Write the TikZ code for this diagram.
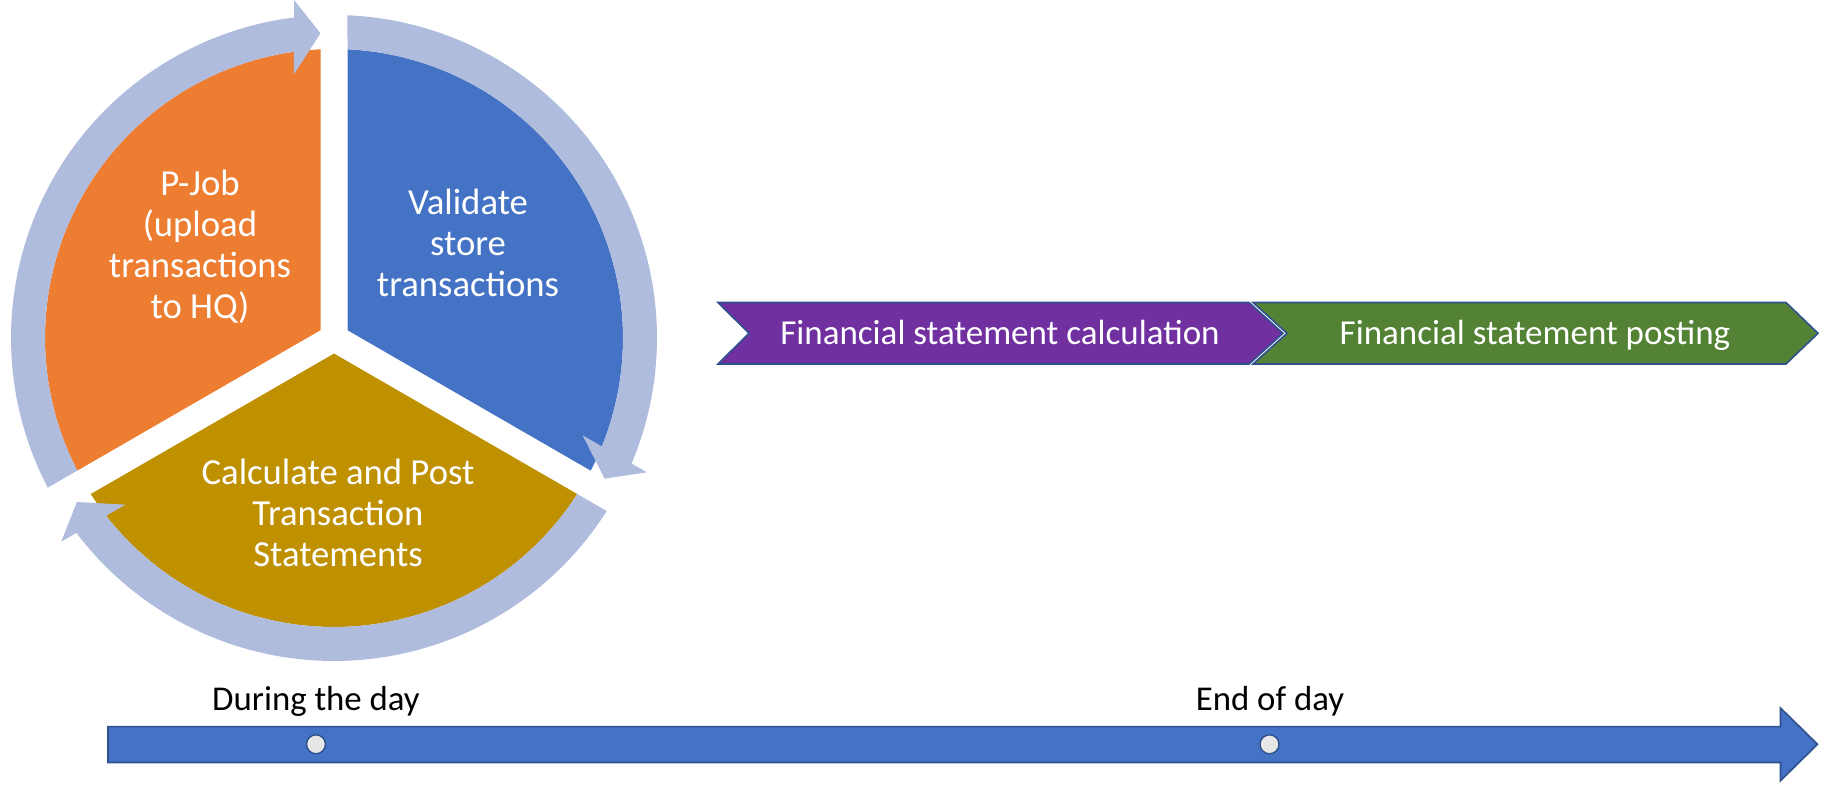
\documentclass[tikz,border=0pt]{standalone}
\usepackage{fontspec}
\setmainfont{Carlito}
\usetikzlibrary{calc}

\definecolor{pieorange}{HTML}{ED7D31}
\definecolor{pieblue}{HTML}{4472C4}
\definecolor{piegold}{HTML}{BF9000}
\definecolor{ringc}{RGB}{176,188,222}
\definecolor{chevpurple}{HTML}{7030A0}
\definecolor{chevgreen}{HTML}{548235}
\definecolor{edgeblue}{HTML}{2F528F}
\definecolor{dotgray}{RGB}{231,231,231}

\tikzset{
  % multi-line labels: the base anchor sits on the last line's baseline
  pietext/.style={text=white, align=center, inner sep=0pt, anchor=base,
    font=\fontsize{36.7}{41}\selectfont},
  chevtext/.style={text=white, inner sep=0pt, anchor=base,
    font=\fontsize{35}{42}\selectfont},
  timetext/.style={text=black, inner sep=0pt, anchor=base,
    font=\fontsize{34.8}{42}\selectfont},
  chevshape/.style={draw=edgeblue, line width=1.6pt, line join=miter},
  tick/.style={circle, fill=dotgray, draw=edgeblue, line width=1.4pt,
    minimum size=19pt, inner sep=0pt},
}

\begin{document}
\begin{tikzpicture}[x=1pt, y=1pt]
\useasboundingbox (0,0) rectangle (1828,797);

% ---- three-step cycle ----
\begin{scope}[shift={(334,459)}]
  % sectors, separated by 27pt gaps along the rays at 90, 210 and 330 degrees
  \foreach \a/\c in {90/pieorange, 210/piegold, -30/pieblue}{
    \fill[\c] ({\a+60}:15.59) -- ({\a+2.678}:289)
      arc[start angle={\a+2.678}, end angle={\a+117.322}, radius=289] -- cycle;
  }
  % curved clockwise arrows around the sectors
  \foreach \t in {210, 90, -30}{
    \pgfmathsetmacro\h{\t-120}
    \fill[ringc] ({\t-2.395}:323)
      arc[start angle={\t-2.395}, end angle={\h+7.11}, radius=323]
      -- ({\h+6.75}:340.4) -- ({\h+2.54}:305) -- ({\h+8.62}:267)
      -- ({\h+7.96}:289)
      arc[start angle={\h+7.96}, end angle={\t-2.678}, radius=289] -- cycle;
  }
\end{scope}

\node[pietext] (pjob) at (200,478.7) {P-Job\\(upload\\transactions\\to HQ)};
\node[pietext] (validate) at (468,500) {Validate\\store\\transactions};
\node[pietext] (calcpost) at (338,230) {Calculate and Post\\Transaction\\Statements};

% ---- end-of-day chevrons ----
\fill[chevpurple] (718,494.5) -- (1249,494.5) -- (1283,463.7) -- (1249,433)
  -- (718,433) -- (749,463.7) -- cycle;
\draw[chevshape] (718,494.5) -- (1249,494.5) -- (1283,463.7) -- (1249,433)
  -- (718,433) -- (749,463.7) -- cycle;
\fill[chevgreen] (1253,494.5) -- (1786,494.5) -- (1818,463.7) -- (1786,433)
  -- (1253,433) -- (1287,463.7) -- cycle;
\draw[chevshape] (1253,494.5) -- (1786,494.5) -- (1818,463.7) -- (1786,433)
  -- (1253,433) -- (1287,463.7) -- cycle;
\node[chevtext] (calc) at (1000,452.7) {Financial statement calculation};
\node[chevtext] (post) at (1535,452.7) {Financial statement posting};

% ---- timeline ----
\filldraw[fill=pieblue, draw=edgeblue, line width=1.6pt, line join=miter]
  (108,70.3) -- (1780.5,70.3) -- (1780.5,89) -- (1817.5,52.7)
  -- (1780.5,16.3) -- (1780.5,34.5) -- (108,34.5) -- cycle;
\node[tick] (dday) at (316,52.7) {};
\node[tick] (deod) at (1269.5,52.7) {};
\node[timetext] (lday) at (316,86.3) {During the day};
\node[timetext] (leod) at (1270,86.3) {End of day};
\end{tikzpicture}
\end{document}
